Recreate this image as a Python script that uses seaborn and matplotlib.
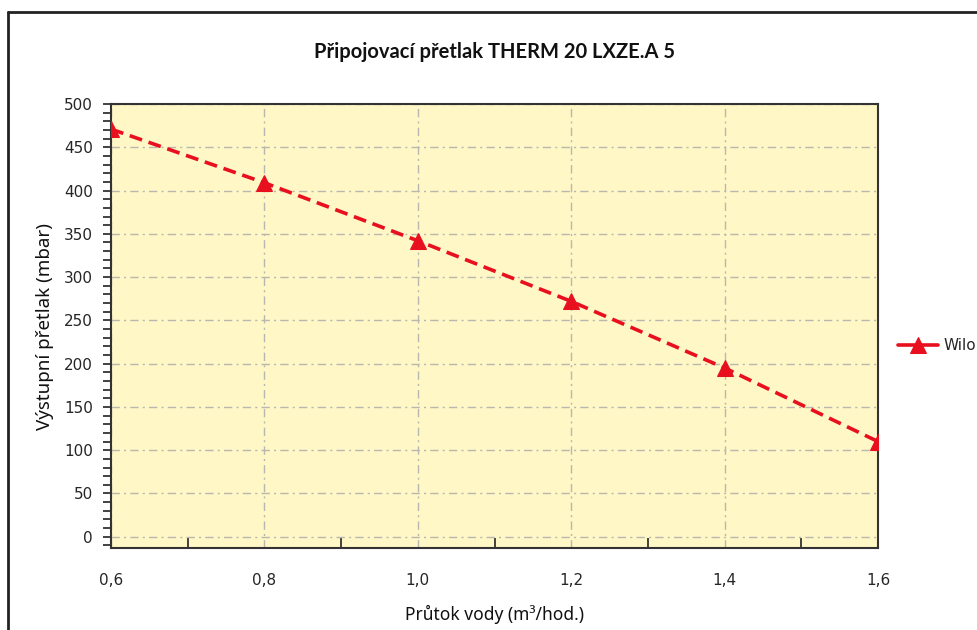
import matplotlib
matplotlib.use("Agg")
import matplotlib.pyplot as plt
from matplotlib.lines import Line2D
from matplotlib.ticker import MultipleLocator, FixedLocator
import seaborn as sns
import pandas as pd

flow = [0.6, 0.8, 1.0, 1.2, 1.4, 1.6]
pressure = [471, 409, 342, 272, 195, 110]
series_name = "Wilo"
x_ticks = [0.6, 0.8, 1.0, 1.2, 1.4, 1.6]
x_tick_labels = ["0,6", "0,8", "1,0", "1,2", "1,4", "1,6"]
y_ticks = [0, 50, 100, 150, 200, 250, 300, 350, 400, 450, 500]

title = "Připojovací přetlak THERM 20 LXZE.A 5"
xlabel = "Průtok vody (m³/hod.)"
ylabel = "Výstupní přetlak (mbar)"

sns.set_style("white")
plt.rcParams['font.family'] = ['Noto Sans', 'DejaVu Sans']
narrow = ['Liberation Sans Narrow', 'DejaVu Sans']

df = pd.DataFrame({"flow": flow, "pressure": pressure, "series": series_name})

fig = plt.figure(figsize=(9.78, 6.30), dpi=100)
ax = fig.add_axes([111/978, 1-548/630, (878-111)/978, (548-104)/630])
ax.set_facecolor("#FFF7C6")

red = "#E8101E"
sns.lineplot(data=df, x="flow", y="pressure", ax=ax, color=red, linewidth=2.6,
             marker="^", markersize=11, markeredgecolor=red, label=series_name,
             dashes=False, zorder=5)
ax.lines[0].set_linestyle((0, (3.6, 1.9)))

ax.set_xlim(0.6, 1.6)
ax.set_ylim(-13, 500)

ax.xaxis.set_major_locator(FixedLocator(x_ticks))
ax.set_xticklabels(x_tick_labels, family=narrow, fontsize=11)
ax.xaxis.set_minor_locator(FixedLocator([0.7, 0.9, 1.1, 1.3, 1.5]))
ax.tick_params(axis="x", which="both", bottom=True)
ax.tick_params(axis="x", which="major", length=0, pad=18)
ax.tick_params(axis="x", which="minor", direction="in", length=7, width=1.2, color="#222222")

ax.yaxis.set_major_locator(FixedLocator(y_ticks))
ax.set_yticklabels([str(v) for v in y_ticks], family=narrow, fontsize=11)
ax.yaxis.set_minor_locator(MultipleLocator(10))
ax.tick_params(axis="y", which="both", direction="out", length=6, width=1.2, color="#222222", left=True)
ax.tick_params(axis="y", which="major", pad=7)

ax.grid(True, which="major", color="#B8B8B0", linestyle=(0, (6, 3, 1.5, 3)), linewidth=1.0)
ax.set_axisbelow(True)
for s in ax.spines.values():
    s.set_visible(True)
    s.set_color("#333333")
    s.set_linewidth(1.5)

ax.set_xlabel(xlabel, fontsize=12.5, labelpad=12, color="#111111")
ax.set_ylabel(ylabel, fontsize=13.5, color="#111111")
ax.yaxis.set_label_coords(-0.074, 0.5)
ax.set_title(title, fontsize=14.5, fontweight="bold", pad=33, color="#111111",
             family=['Lato', 'DejaVu Sans'])

leg = ax.legend(loc="center left", bbox_to_anchor=(1.008, 0.455), frameon=False,
                handlelength=2.6, handletextpad=0.4, prop={"family": narrow, "size": 11})
for h in leg.legend_handles:
    h.set_linestyle("-")

fig.add_artist(Line2D([8/978, 8/978], [0, 1-12/630], color="#222222", linewidth=2, transform=fig.transFigure))
fig.add_artist(Line2D([8/978, 1], [1-12/630, 1-12/630], color="#222222", linewidth=2, transform=fig.transFigure))

fig.savefig("out.png", dpi=100)
